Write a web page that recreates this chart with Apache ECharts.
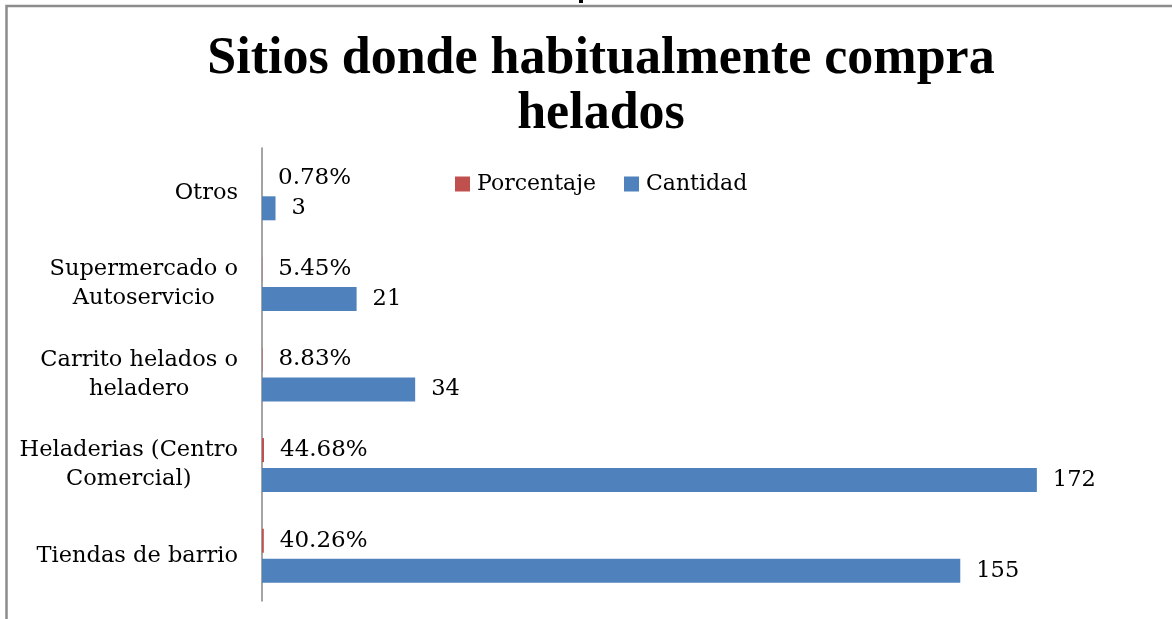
<!DOCTYPE html>
<html>
<head>
<meta charset="utf-8">
<style>html,body{margin:0;padding:0;background:#fff;}#c{width:1172px;height:619px;}</style>
<script src="https://cdn.jsdelivr.net/npm/echarts@6/dist/echarts.min.js"></script>
</head>
<body>
<div id="c"></div>
<script>
var categories = ['Tiendas de barrio', 'Heladerias (Centro\nComercial)', 'Carrito helados o\nheladero', 'Supermercado o\nAutoservicio', 'Otros'];
var cantidad = [155, 172, 34, 21, 3];
var porcentaje = [0.4026, 0.4468, 0.0883, 0.0545, 0.0078];
var seriesNames = ['Porcentaje', 'Cantidad'];
var titleText = 'Sitios donde habitualmente compra\nhelados';

var serif = '"DejaVu Serif", serif';
var chart = echarts.init(document.getElementById('c'));
chart.setOption({
  backgroundColor: '#ffffff',
  animation: false,
  title: {
    text: titleText,
    left: 596,
    textAlign: 'center',
    top: 27,
    textStyle: { fontFamily: '"Liberation Serif", serif', fontWeight: 'bold', fontSize: 52, lineHeight: 55, color: '#000' }
  },
  legend: {
    data: seriesNames,
    left: 455,
    top: 173,
    padding: 0,
    itemWidth: 15,
    itemHeight: 15,
    itemGap: 28,
    icon: 'rect',
    textStyle: { fontFamily: serif, fontSize: 22, color: '#000', padding: [0, 0, 0, 2] }
  },
  grid: { left: 262, right: 9, top: 148, bottom: 18, containLabel: false },
  xAxis: { type: 'value', min: 0, max: 200, show: false },
  yAxis: {
    type: 'category',
    data: categories,
    axisLine: { show: true, lineStyle: { color: '#868686', width: 1.5 } },
    axisTick: { show: false },
    axisLabel: {
      margin: 24,
      color: '#000',
      formatter: function (v) {
        return v.split('\n').map(function (l) { return '{c|' + l + '}'; }).join('\n');
      },
      rich: { c: { align: 'center', fontFamily: serif, fontSize: 22.5, lineHeight: 29, color: '#000' } }
    }
  },
  series: [
    {
      name: 'Porcentaje', type: 'bar', data: porcentaje, barWidth: 24, barGap: '25%',
      itemStyle: { color: '#C0504D' },
      label: {
        show: true, position: 'right', distance: 16, fontFamily: serif, fontSize: 23, color: '#000',
        formatter: function (p) { return (p.value * 100).toFixed(2) + '%'; }
      }
    },
    {
      name: 'Cantidad', type: 'bar', data: cantidad, barWidth: 24, barGap: '25%',
      itemStyle: { color: '#4F81BD' },
      label: { show: true, position: 'right', distance: 16, fontFamily: serif, fontSize: 22.5, color: '#000' }
    }
  ],
  graphic: [
    { type: 'polyline', shape: { points: [[6.5, 619], [6.5, 6], [1172, 6]] }, style: { stroke: '#8c8c8c', lineWidth: 2.5, fill: null } },
    { type: 'rect', shape: { x: 579, y: 0, width: 4, height: 3 }, style: { fill: '#000' } }
  ]
});
</script>
</body>
</html>
